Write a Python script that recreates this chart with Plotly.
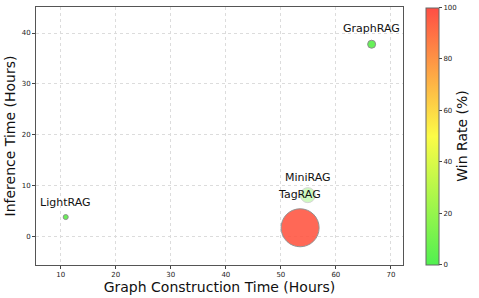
import plotly.graph_objects as go

methods = ["GraphRAG", "LightRAG", "MiniRAG", "TagRAG"]
graph_time = [66.5, 10.9, 54.9, 53.5]
infer_time = [37.8, 3.9, 8.2, 1.8]
win_rate = [4, 5, 12, 97]
bubble = [8, 5, 15, 38]
point_alpha = [0.95, 0.95, 0.35, 0.9]
label_shift = [16, 15, 18, 33]
label_dx = [0, 0, 0, -1]

x_ticks = [10, 20, 30, 40, 50, 60, 70]
y_ticks = [0, 10, 20, 30, 40]
cbar_ticks = [0, 20, 40, 60, 80, 100]

cscale = [[0.0, "rgb(80,240,80)"], [0.5, "rgb(252,252,70)"], [1.0, "rgb(255,78,68)"]]

fig = go.Figure()
fig.add_trace(go.Scatter(
    x=graph_time, y=infer_time, mode="markers",
    marker=dict(size=bubble, color=win_rate, colorscale=cscale, cmin=0, cmax=100,
                opacity=point_alpha, line=dict(color="#888888", width=1),
                colorbar=dict(
                    x=1.063, xanchor="left", xpad=0, y=0.5, yanchor="middle", ypad=0,
                    thickness=13, len=257, lenmode="pixels",
                    outlinewidth=1, outlinecolor="#666666",
                    tickvals=cbar_ticks, ticks="outside", ticklen=3, tickcolor="#444",
                    tickfont=dict(size=7, color="#222", family="DejaVu Sans"),
                    title=dict(text="Win Rate (%)", side="right",
                               font=dict(size=14, color="#111", family="DejaVu Sans")),
                )),
    hoverinfo="skip", showlegend=False,
))

for m, x, y, s, dx in zip(methods, graph_time, infer_time, label_shift, label_dx):
    fig.add_annotation(x=x, y=y, text=m, showarrow=False, yshift=s, xshift=dx,
                       font=dict(size=11, color="#111", family="DejaVu Sans"))

axis_common = dict(
    showgrid=True, gridcolor="#dcdcdc", griddash="dot", gridwidth=0.8,
    showline=True, linecolor="#555555", linewidth=1, mirror=True,
    ticks="outside", ticklen=3, tickcolor="#444",
    tickfont=dict(size=7, color="#222", family="DejaVu Sans"),
    zeroline=False,
)

fig.update_layout(
    width=479, height=298,
    margin=dict(l=36, r=76, t=7, b=33, autoexpand=False),
    paper_bgcolor="white", plot_bgcolor="white",
    xaxis=dict(range=[5.5, 72.2], tickvals=x_ticks, automargin=False,
               title=dict(text="Graph Construction Time (Hours)", standoff=2,
                          font=dict(size=14, color="#111", family="DejaVu Sans")),
               **axis_common),
    yaxis=dict(range=[-5.5, 45.1], tickvals=y_ticks, automargin=False,
               title=dict(text="Inference Time (Hours)", standoff=2,
                          font=dict(size=14, color="#111", family="DejaVu Sans")),
               **axis_common),
)

fig.write_html("out.html", config={"displayModeBar": False},
               post_script="document.body.style.margin='0px';document.body.style.overflow='hidden';")
